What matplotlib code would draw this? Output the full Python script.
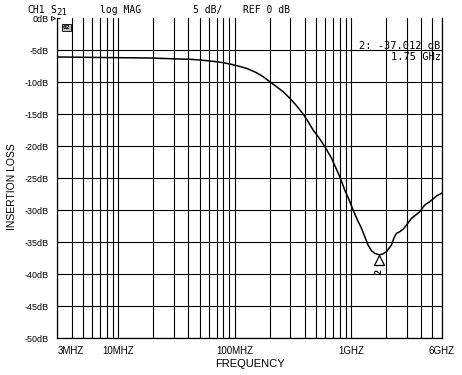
import matplotlib
matplotlib.use("Agg")
import matplotlib.pyplot as plt
from matplotlib.ticker import FixedLocator, NullFormatter
import matplotlib.transforms as mtransforms

# trace (MHz, dB)
freq_mhz = [3, 6.97, 18.7, 33.9, 41.3, 50.3, 65.4, 79.7, 90.9, 107.2, 126.5,
            154.2, 175.6, 200.5, 228.9, 260.9, 297.8, 339.9, 387.3, 427.5,
            471.8, 538.6, 594.7, 678.8, 799.8, 883, 961.2, 1040, 1126, 1228,
            1311, 1399, 1497, 1597, 1750, 1860, 2013, 2223, 2326, 2453, 2618,
            2795, 3025, 3300, 3593, 3888, 4292, 4738, 5408, 6000]
loss_db = [-6.09, -6.17, -6.25, -6.41, -6.45, -6.56, -6.77, -6.98, -7.19, -7.5,
           -7.86, -8.55, -9.17, -9.95, -10.73, -11.52, -12.55, -13.7, -15.0,
           -16.2, -17.5, -18.9, -20.1, -21.9, -24.8, -26.9, -28.4, -30.0,
           -31.45, -32.86, -34.17, -35.47, -36.36, -36.77, -37.01, -36.88,
           -36.52, -35.47, -34.42, -33.64, -33.39, -33.02, -32.23, -31.3,
           -30.78, -30.27, -29.22, -28.7, -27.81, -27.39]

x_ticks = [3, 10, 100, 1000, 6000]
x_labels = ["3MHZ", "10MHZ", "100MHZ", "1GHZ", "6GHZ"]
y_ticks = list(range(-50, 1, 5))
y_labels = ["%ddB" % v for v in y_ticks]

marker_freq = 1750
marker_db = -37.012

W, H = 462, 375
fig = plt.figure(figsize=(W / 100, H / 100), dpi=100)
ax = fig.add_axes([57.3 / W, 1 - 338 / H, (441.7 - 57.3) / W, 320 / H])

ax.set_xscale("log")
ax.set_xlim(3, 6000)
ax.set_ylim(-50, 0)

# grid: every 1-9 of each decade, 5 dB steps
minor = [m * 10 ** k for k in range(0, 4) for m in range(2, 10)]
minor = [v for v in minor if 3 < v < 6000 and v not in x_ticks]
ax.xaxis.set_major_locator(FixedLocator(x_ticks))
ax.xaxis.set_minor_locator(FixedLocator(minor))
ax.xaxis.set_minor_formatter(NullFormatter())
ax.set_xticklabels(x_labels)
ax.set_yticks(y_ticks)
ax.set_yticklabels(y_labels)

ax.grid(True, which="both", axis="x", color="black", linewidth=0.8)
ax.grid(True, which="major", axis="y", color="black", linewidth=0.8)
ax.yaxis.get_gridlines()[-1].set_visible(False)

ax.spines["top"].set_visible(False)
for s in ["left", "right", "bottom"]:
    ax.spines[s].set_linewidth(0.9)

ax.tick_params(axis="x", which="both", length=0, pad=6, labelsize=7)
ax.tick_params(axis="y", direction="in", length=2, width=0.8, pad=6, labelsize=6.5)
for lab in ax.get_xticklabels() + ax.get_yticklabels():
    lab.set_family("Liberation Sans")
ax.get_xticklabels()[0].set_ha("left")

ax.plot(freq_mhz, loss_db, color="black", linewidth=1.1)

# marker 2 at the notch
ax.plot([marker_freq], [marker_db - 0.75], marker="^", markersize=7.5,
        mfc="white", mec="black", mew=0.9, linestyle="none")
ax.text(marker_freq, marker_db - 2.6, "2", rotation=90, ha="center", va="center",
        fontsize=6, family="DejaVu Sans Mono", fontweight="bold")

mono = "DejaVu Sans Mono"
blend = mtransforms.blended_transform_factory(ax.transAxes, ax.transData)
ax.text(0.997, -5.15, "2: -37.012 dB", transform=blend,
        ha="right", va="bottom", fontsize=7.5, family=mono)
ax.text(0.997, -5.35, "1.75 GHz", transform=blend,
        ha="right", va="top", fontsize=7.5, family=mono)

# reference level pointer and channel box
ax.plot([-0.012], [0], marker=">", markersize=3, mfc="white", mec="black", mew=0.6,
        transform=blend, clip_on=False)
ax.text(66.7 / W, 1 - 27.5 / H, "02", transform=fig.transFigure, ha="center", va="center",
        fontsize=4.5, family=mono, fontweight="bold",
        bbox=dict(boxstyle="square,pad=0.15", fc="#bbbbbb", ec="black", lw=0.6))

# header line
hy = 1 - 10 / H
fig.text(27.7 / W, hy, "CH1", fontsize=7, family=mono, va="center")
fig.text(50 / W, hy, "S", fontsize=7, family=mono, va="center")
fig.text(56 / W, 1 - 12.5 / H, "21", fontsize=6.5, family=mono, va="center")
fig.text(100 / W, hy, "log MAG", fontsize=7, family=mono, va="center")
fig.text(193 / W, hy, "5 dB/", fontsize=7, family=mono, va="center")
fig.text(243 / W, hy, "REF 0 dB", fontsize=7, family=mono, va="center")

ax.set_xlabel("FREQUENCY", fontsize=8, family="Liberation Sans", labelpad=2)
fig.text(12.5 / W, 1 - 187 / H, "INSERTION LOSS", rotation=90, ha="center", va="center",
         fontsize=7.5, family="Liberation Sans")

fig.savefig("out.png", dpi=100)
